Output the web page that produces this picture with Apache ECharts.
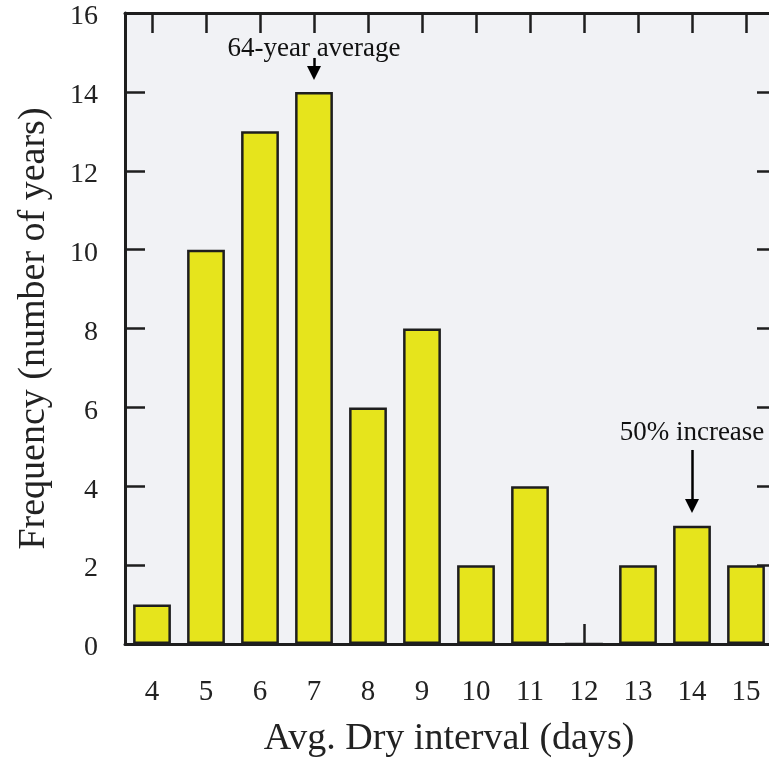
<!DOCTYPE html>
<html>
<head>
<meta charset="utf-8">
<script src="https://cdn.jsdelivr.net/npm/echarts@6/dist/echarts.min.js"></script>
<style>
  html, body { margin: 0; padding: 0; background: #fff; }
  #chart { width: 769px; height: 759px; }
</style>
</head>
<body>
<div id="chart"></div>
<script>
const categories = ["4", "5", "6", "7", "8", "9", "10", "11", "12", "13", "14", "15"];
const frequency = [1, 10, 13, 14, 6, 8, 2, 4, 0, 2, 3, 2];
const yTicks = { min: 0, max: 16, interval: 2 };

// annotations: [category index, arrow start value, arrow end value, text]
const annotations = [
  [3, 14.86, 14.48, "64-year average"],
  [10, 4.92, 3.5, "50% increase"],
];
const annotationGaps = [-4, 4];

const FONT = "Liberation Serif";
const BAR_COLOR = "#e6e41c";
const INK = "#1e1e1e";

const chart = echarts.init(document.getElementById("chart"), null, { renderer: "canvas" });

const markData = annotations.map((a, i) => [
  {
    coord: [a[0], a[1]],
    label: { formatter: a[3], distance: annotationGaps[i] },
  },
  { coord: [a[0], a[2]] },
]);

const tickStyle = { color: INK, width: 2.5 };

chart.setOption({
  animation: false,
  textStyle: { fontFamily: FONT },
  grid: {
    left: 125,
    top: 13,
    width: 648,
    height: 631,
    outerBoundsMode: "none",
    show: true,
    backgroundColor: "#f1f2f5",
    borderWidth: 0,
  },
  xAxis: [
    {
      type: "category",
      data: categories,
      position: "bottom",
      axisLine: { onZero: false, lineStyle: { color: INK, width: 3 } },
      axisTick: { show: true, inside: true, length: 20, alignWithLabel: true, lineStyle: tickStyle },
      axisLabel: { color: "#222", fontSize: 29, margin: 34, fontFamily: FONT },
      name: "Avg. Dry interval (days)",
      nameLocation: "middle",
      nameGap: 76,
      nameTextStyle: { color: "#222", fontSize: 38, fontFamily: FONT },
    },
    {
      type: "category",
      data: categories,
      position: "top",
      axisLine: { onZero: false, lineStyle: { color: INK, width: 3 } },
      axisTick: { show: true, inside: true, length: 20, alignWithLabel: true, lineStyle: tickStyle },
      axisLabel: { show: false },
    },
  ],
  yAxis: [
    {
      type: "value",
      min: yTicks.min,
      max: yTicks.max,
      interval: yTicks.interval,
      position: "left",
      splitLine: { show: false },
      axisLine: { show: true, onZero: false, lineStyle: { color: INK, width: 3 } },
      axisTick: { show: true, inside: true, length: 20, lineStyle: tickStyle },
      axisLabel: {
        margin: 27,
        formatter: "{v|{value}}",
        rich: {
          v: { color: "#222", fontSize: 28, fontFamily: FONT, padding: [8, 0, 0, 0] },
        },
      },
      name: "Frequency (number of years)",
      nameLocation: "middle",
      nameGap: 72,
      nameTextStyle: { color: "#222", fontSize: 38, fontFamily: FONT },
    },
    {
      type: "value",
      min: yTicks.min,
      max: yTicks.max,
      interval: yTicks.interval,
      position: "right",
      splitLine: { show: false },
      axisLine: { show: true, onZero: false, lineStyle: { color: INK, width: 3 } },
      axisTick: { show: true, inside: true, length: 16, lineStyle: tickStyle },
      axisLabel: { show: false },
    },
  ],
  series: [
    {
      type: "bar",
      data: frequency,
      barWidth: "70%",
      itemStyle: { color: BAR_COLOR, borderColor: INK, borderWidth: 2.5 },
      markLine: {
        silent: true,
        symbol: ["none", "triangle"],
        symbolSize: [14, 14],
        lineStyle: { color: "#000", width: 2.5, type: "solid" },
        label: {
          show: true,
          position: "start",
          color: "#111",
          fontSize: 27,
          fontFamily: FONT,
        },
        data: markData,
      },
    },
  ],
});
</script>
</body>
</html>
